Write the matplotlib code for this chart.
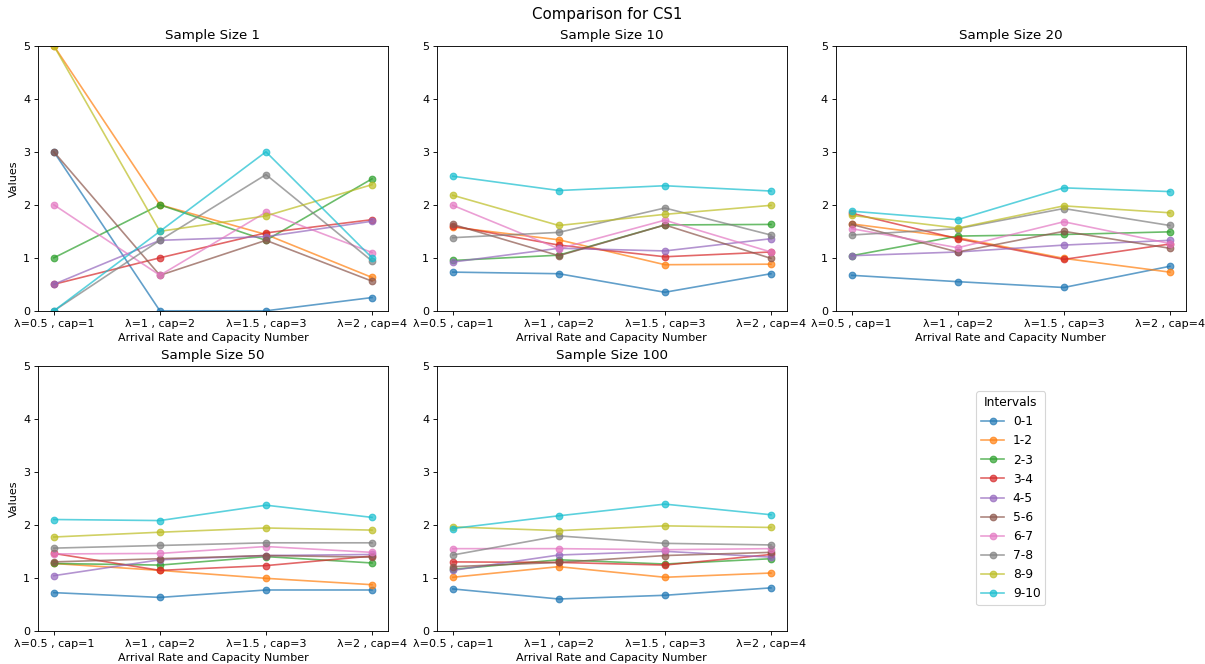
import numpy as np
import matplotlib
matplotlib.use("Agg")
import matplotlib.pyplot as plt

# x categories: arrival rate and number of servers
scenarios = ["λ=0.5 , cap=1", "λ=1 , cap=2", "λ=1.5 , cap=3", "λ=2 , cap=4"]
intervals = ["0-1", "1-2", "2-3", "3-4", "4-5", "5-6", "6-7", "7-8", "8-9", "9-10"]
sample_sizes = [1, 10, 20, 50, 100]

# values per interval (rows) for each scenario (columns)
size_1 = [
    [3.00, 0.00, 0.00, 0.25],
    [5.00, 2.00, 1.44, 0.63],
    [1.00, 2.00, 1.33, 2.49],
    [0.50, 1.00, 1.47, 1.72],
    [0.50, 1.33, 1.40, 1.69],
    [3.00, 0.67, 1.33, 0.56],
    [2.00, 0.67, 1.86, 1.10],
    [0.00, 1.33, 2.57, 0.94],
    [5.00, 1.50, 1.79, 2.38],
    [0.00, 1.50, 3.00, 1.00],
]
size_10 = [
    [0.73, 0.70, 0.35, 0.70],
    [1.58, 1.34, 0.87, 0.88],
    [0.95, 1.05, 1.62, 1.63],
    [1.60, 1.24, 1.02, 1.11],
    [0.92, 1.18, 1.13, 1.36],
    [1.63, 1.04, 1.62, 0.99],
    [1.99, 1.17, 1.71, 1.11],
    [1.38, 1.48, 1.94, 1.43],
    [2.18, 1.61, 1.82, 1.99],
    [2.54, 2.27, 2.36, 2.26],
]
size_20 = [
    [0.67, 0.55, 0.44, 0.84],
    [1.64, 1.38, 0.99, 0.73],
    [1.04, 1.41, 1.44, 1.49],
    [1.84, 1.36, 0.97, 1.26],
    [1.04, 1.11, 1.24, 1.33],
    [1.63, 1.11, 1.50, 1.18],
    [1.55, 1.19, 1.68, 1.27],
    [1.43, 1.55, 1.93, 1.61],
    [1.80, 1.56, 1.98, 1.85],
    [1.88, 1.72, 2.32, 2.25],
]
size_50 = [
    [0.72, 0.63, 0.77, 0.77],
    [1.27, 1.14, 0.99, 0.87],
    [1.27, 1.24, 1.40, 1.28],
    [1.46, 1.14, 1.23, 1.41],
    [1.04, 1.34, 1.42, 1.44],
    [1.30, 1.36, 1.42, 1.39],
    [1.45, 1.46, 1.59, 1.48],
    [1.56, 1.61, 1.66, 1.66],
    [1.77, 1.86, 1.94, 1.90],
    [2.10, 2.08, 2.37, 2.14],
]
size_100 = [
    [0.79, 0.60, 0.67, 0.81],
    [1.01, 1.21, 1.01, 1.09],
    [1.16, 1.34, 1.26, 1.36],
    [1.30, 1.29, 1.24, 1.44],
    [1.14, 1.43, 1.50, 1.39],
    [1.21, 1.29, 1.42, 1.48],
    [1.55, 1.55, 1.53, 1.55],
    [1.43, 1.79, 1.65, 1.62],
    [1.96, 1.89, 1.98, 1.95],
    [1.93, 2.17, 2.39, 2.19],
]
all_sizes = [size_1, size_10, size_20, size_50, size_100]

fig, axes = plt.subplots(2, 3, figsize=(15.0625, 8.3), dpi=80)
fig.subplots_adjust(left=0.0315, right=0.984, top=0.931, bottom=0.05,
                    wspace=0.14, hspace=0.2075)
axes = axes.flatten()

for i, (n, values) in enumerate(zip(sample_sizes, all_sizes)):
    ax = axes[i]
    for label, row in zip(intervals, values):
        ax.plot(scenarios, row, marker="o", alpha=0.7, label=label)
    ax.set_title(f"Sample Size {n}")
    ax.set_xlabel("Arrival Rate and Capacity Number")
    ax.set_ylim(0, 5)
    if i % 3 == 0:
        ax.set_ylabel("Values")

# last slot only holds the legend
handles, labels = axes[0].get_legend_handles_labels()
axes[5].axis("off")
axes[5].legend(handles, labels, title="Intervals", loc="center",
               fontsize=11, title_fontsize=11, handlelength=1.9,
               handletextpad=0.7)

fig.suptitle("Comparison for CS1", fontsize=13.5, x=0.5035, y=0.99)
fig.savefig("out.png")
